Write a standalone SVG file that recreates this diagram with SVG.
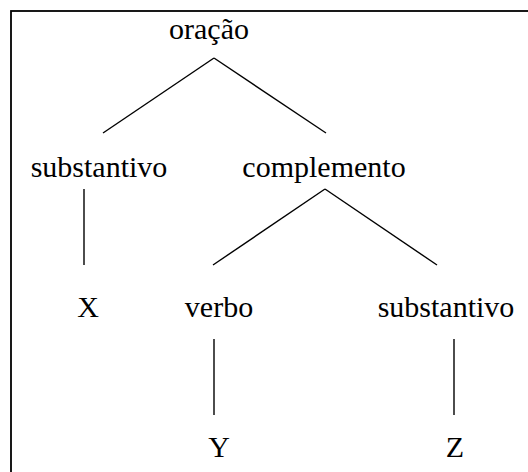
<svg xmlns="http://www.w3.org/2000/svg" width="528" height="472" viewBox="0 0 528 472">
<style>
text{font-family:"Liberation Serif","Times New Roman",serif;font-size:30px;fill:#000;text-anchor:middle}
.e{stroke:#000;stroke-width:1.4;fill:none}
</style>
<rect x="0" y="0" width="528" height="472" fill="#fff"/>
<rect x="11" y="11" width="700" height="700" fill="none" stroke="#000" stroke-width="1.8"/>
<g id="connectors">
<line class="e" x1="214" y1="58" x2="103" y2="133"/>
<line class="e" x1="214" y1="58" x2="326" y2="133"/>
<line class="e" x1="84" y1="189" x2="84" y2="265"/>
<line class="e" x1="325" y1="189" x2="213" y2="265"/>
<line class="e" x1="325" y1="189" x2="437" y2="265"/>
<line class="e" x1="214" y1="339" x2="214" y2="415"/>
<line class="e" x1="454" y1="339" x2="454" y2="415"/>
</g>
<g id="oracao"><text x="209" y="39">oração</text></g>
<g id="substantivo1"><text x="99" y="177">substantivo</text></g>
<g id="complemento"><text x="324" y="177">complemento</text></g>
<g id="X"><text x="88" y="317">X</text></g>
<g id="verbo"><text x="219" y="317">verbo</text></g>
<g id="substantivo2"><text x="446" y="317">substantivo</text></g>
<g id="Y"><text x="219" y="457">Y</text></g>
<g id="Z"><text x="455" y="457">Z</text></g>
</svg>
